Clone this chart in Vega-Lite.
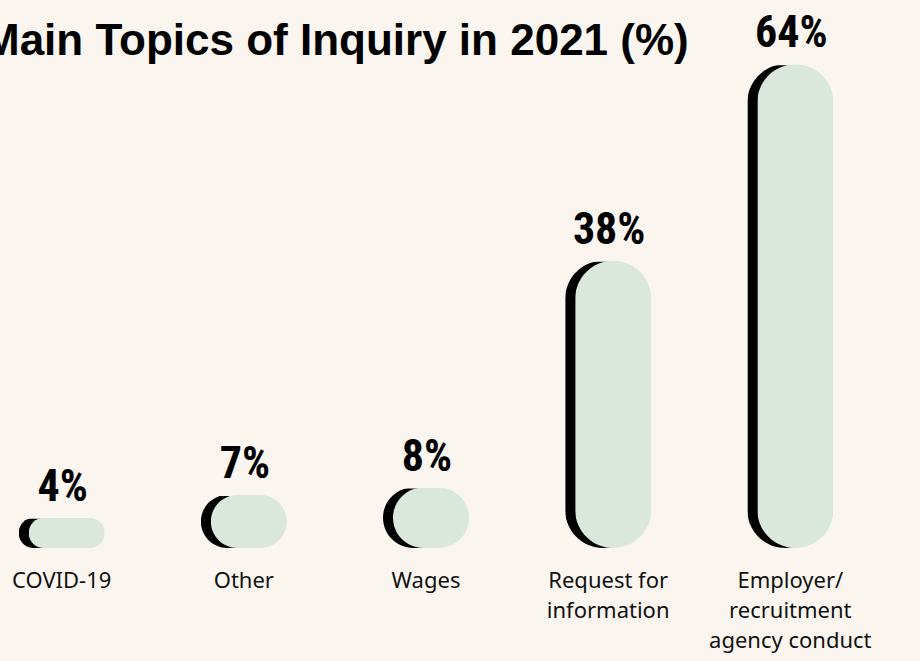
{
  "$schema": "https://vega.github.io/schema/vega-lite/v6.json",
  "autosize": "none",
  "width": 862,
  "height": 529,
  "padding": {"left": 0, "top": 19, "right": 58, "bottom": 113},
  "background": "#faf6ef",
  "config": {"view": {"stroke": null}},
  "title": {
    "text": "Main Topics of Inquiry in 2021 (%)",
    "anchor": "start",
    "frame": "group",
    "orient": "top",
    "offset": -44,
    "baseline": "alphabetic",
    "dx": -17,
    "dy": 43,
    "font": "Liberation Sans",
    "fontWeight": "bold",
    "fontSize": 44,
    "color": "#000000"
  },
  "data": {
    "values": [
      {"topic": "COVID-19", "value": 4, "pct": "4%", "label": "COVID-19"},
      {"topic": "Other", "value": 7, "pct": "7%", "label": "Other"},
      {"topic": "Wages", "value": 8, "pct": "8%", "label": "Wages"},
      {"topic": "Request for information", "value": 38, "pct": "38%", "label": "Request for\ninformation"},
      {"topic": "Employer/recruitment agency conduct", "value": 64, "pct": "64%", "label": "Employer/\nrecruitment\nagency conduct"}
    ]
  },
  "encoding": {
    "x": {
      "field": "topic",
      "type": "nominal",
      "sort": null,
      "scale": {"type": "point", "padding": 0.366},
      "axis": null
    }
  },
  "layer": [
    {
      "mark": {"type": "bar", "width": 76, "cornerRadius": 38, "color": "#000000", "xOffset": -10, "yOffset": 1},
      "encoding": {
        "y": {"field": "value", "type": "quantitative", "scale": {"domain": [0, 70]}, "axis": null}
      }
    },
    {
      "mark": {"type": "bar", "width": 76, "cornerRadius": 38, "color": "#d9e7dc"},
      "encoding": {
        "y": {"field": "value", "type": "quantitative"}
      }
    },
    {
      "mark": {"type": "text", "baseline": "alphabetic", "dy": -17, "font": "'Roboto Condensed', 'Liberation Sans Narrow', 'DejaVu Sans Condensed', sans-serif", "fontSize": 44, "fontWeight": "bold", "color": "#000000", "xOffset": -4},
      "encoding": {
        "y": {"field": "value", "type": "quantitative"},
        "text": {"field": "pct", "type": "nominal"}
      }
    },
    {
      "mark": {"type": "text", "baseline": "alphabetic", "dy": 40, "lineHeight": 30, "lineBreak": "\n", "font": "Noto Sans", "fontSize": 22, "color": "#111111", "xOffset": -5},
      "encoding": {
        "y": {"datum": 0, "type": "quantitative"},
        "text": {"field": "label", "type": "nominal"}
      }
    }
  ]
}
